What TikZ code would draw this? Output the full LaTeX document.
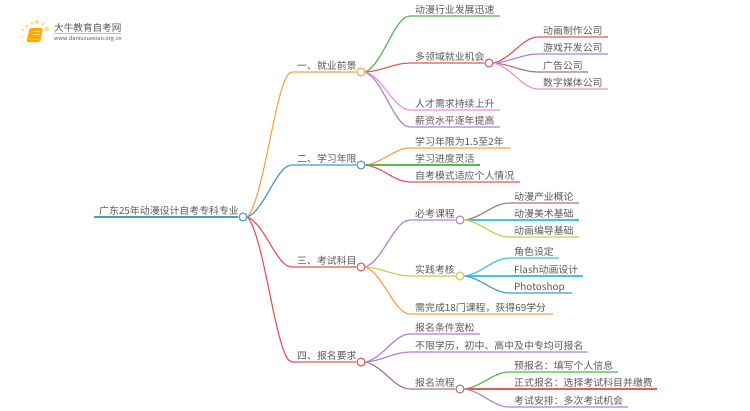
\documentclass[tikz,border=0pt]{standalone}
\usepackage{fontspec}
\setmainfont{Noto Sans CJK SC}
\usetikzlibrary{calc}
\definecolor{orangeb}{RGB}{255,160,80}
\definecolor{blueb}{RGB}{75,155,210}
\definecolor{redb}{RGB}{228,90,92}
\definecolor{greenb}{RGB}{85,185,85}
\definecolor{purpleb}{RGB}{178,130,215}
\definecolor{pinkb}{RGB}{238,145,215}
\definecolor{brownb}{RGB}{170,125,112}
\definecolor{cyanb}{RGB}{60,200,222}
\definecolor{yellowb}{RGB}{205,205,85}
\definecolor{txt}{RGB}{88,88,88}
\definecolor{sun}{RGB}{255,218,130}
\tikzset{
  knot/.style={circle,draw,fill=white,line width=1.1pt,inner sep=0pt,minimum size=8pt},
  lbl/.style={anchor=base west,inner sep=0pt,text=txt,font=\fontsize{9.9}{11}\selectfont},
  conn/.style={line width=1.2pt},
}
% curve from a knot to the start of a straight stretch
\newcommand{\branch}[4]{%
  \draw[conn,#3] let \p1=(#1.east), \p2=(#2) in (\p1)
    .. controls ({\x1+.4*(\x2-\x1)},{\y1+.15*(\y2-\y1)}) and ({\x1+.65*(\x2-\x1)},\y2) .. (\p2) -- (#4);}
\begin{document}
\begin{tikzpicture}[x=1pt,y=-1pt]
    \useasboundingbox (0,0) rectangle (750,410);
    % logo
    \foreach \px/\py/\r in {23/30/1.3,27/26/1.6,32/23/1.8,37/22/2,43/24/1.8,47/29/2.2,22/37/1,23/42/.8}{
      \fill[sun] (\px,\py) circle (\r);}
    \fill[orange!70!yellow,rounded corners=1.5pt] (29.5,28)--(43,28)--(40,42)--(26.5,42)--cycle;
    \draw[orange!55!white,line width=.8pt] (28,39.8)--(39,39.8);
    \draw[white!80!orange,line width=.5pt] (33,31.5)--(40,31.5) (32.5,34)--(39.5,34);
    \node[lbl,font=\fontsize{9.6}{11}\selectfont] (logotext) at (54,31) {大牛教育自考网};
    \draw[black!25,line width=.4pt] (54,33.5)--(121,33.5);
    \node[lbl,font=\fontsize{5.6}{7}\selectfont] (logourl) at (54,40.5) {www.daniuxuexiao.org.cn};
    % knots
    \foreach \nm/\px/\py/\col in {root/243/217/blueb,one/361/72/orangeb,two/361/165/blueb,three/361/267/redb,
      four/361/362/redb,jobs/489/63/redb,must/460/220/purpleb,prac/460/276/yellowb,flow/460/389/brownb}{
      \node[knot,draw=\col] (\nm) at (\px,\py) {};}
    % root
    \coordinate (rootstart) at (94,217);
    \draw[conn,blueb,line width=1.8pt] (rootstart) -- (root.west);
    \node[lbl] (roottext) at (99,214) {广东25年动漫设计自考专科专业};
    % branches with a knot at their end
    \foreach \src/\dest/\px/\py/\tx/\col/\lab in {
      root/one/292/72/297/orangeb/一、就业前景,
      root/two/292/165/297/blueb/二、学习年限,
      root/three/292/267/297/redb/三、考试科目,
      root/four/292/362/297/redb/四、报名要求,
      one/jobs/410/63/415/redb/多领域就业机会,
      three/must/410/220/415/purpleb/必考课程,
      three/prac/410/276/415/yellowb/实践考核,
      four/flow/410/389/415/brownb/报名流程}{
      \coordinate (\dest-s) at (\px,\py);
      \branch{\src}{\dest-s}{\col}{\dest.west}
      \node[lbl] (\dest-t) at (\tx,\py-2.8) {\lab};}
    % leaves
    \foreach \nm/\src/\px/\py/\tx/\xe/\col/\lab in {
      a1/one/410/16/415/500/greenb/动漫行业发展迅速,
      a2/one/410/110/415/500/pinkb/人才需求持续上升,
      a3/one/410/127/415/500/purpleb/薪资水平逐年提高,
      b1/jobs/538/37/543/608/redb/动画制作公司,
      b2/jobs/538/54/543/608/purpleb/游戏开发公司,
      b3/jobs/538/72/543/588/brownb/广告公司,
      b4/jobs/538/89/543/608/pinkb/数字媒体公司,
      c1/two/410/148/415/510/orangeb/学习年限为1.5至2年,
      c2/two/410/165/415/480/greenb/学习进度灵活,
      c3/two/410/182/415/520/redb/自考模式适应个人情况,
      d1/must/509/203/514/579/brownb/动漫产业概论,
      d2/must/509/220/514/579/cyanb/动漫美术基础,
      d3/must/509/237/514/579/yellowb/动画编导基础,
      e1/prac/509/258/514/559/cyanb/角色设定,
      e2/prac/509/276/514/583/cyanb/Flash动画设计,
      e3/prac/509/293/514/572/blueb/Photoshop,
      f1/three/410/314/415/553/orangeb/需完成18门课程，获得69学分,
      g1/four/410/334/415/480/purpleb/报名条件宽松,
      g2/four/410/352/415/588/purpleb/不限学历，初中、高中及中专均可报名,
      h1/flow/509/372/514/618/greenb/预报名：填写个人信息,
      h2/flow/509/389/514/657/redb/正式报名：选择考试科目并缴费,
      h3/flow/509/407/514/628/purpleb/考试安排：多次考试机会}{
      \coordinate (\nm-s) at (\px,\py);
      \coordinate (\nm-e) at (\xe,\py);
      \branch{\src}{\nm-s}{\col}{\nm-e}
      \node[lbl] (\nm-t) at (\tx,\py-2.8) {\lab};}
\end{tikzpicture}
\end{document}
